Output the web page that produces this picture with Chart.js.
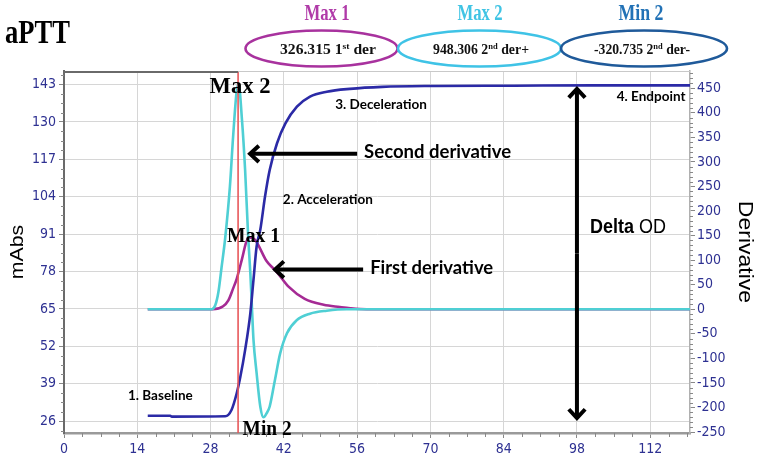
<!DOCTYPE html>
<html><head><meta charset="utf-8">
<script src="https://cdn.jsdelivr.net/npm/chart.js@4/dist/chart.umd.min.js"></script>
<style>html,body{margin:0;padding:0;background:#fff;}#wrap{width:769px;height:468px;position:relative}</style>
</head><body><div id="wrap"><canvas id="c" width="769" height="468"></canvas></div>
<script>
// ---------- data ----------
const xTicks = [0, 14, 28, 42, 56, 70, 84, 98, 112];
const leftTicks = [26, 39, 52, 65, 78, 91, 104, 117, 130, 143];
const rightTicks = [-250, -200, -150, -100, -50, 0, 50, 100, 150, 200, 250, 300, 350, 400, 450];

// absorbance (mAbs, left axis)
const absX = [16.0, 20.3, 20.6, 30.8, 32.0, 33.0, 33.7, 34.6, 35.6, 36.2, 36.8, 37.5, 38.4, 39.3, 40.7, 42.3, 44.5, 47.0, 50.2, 54.6, 60.8, 71, 86, 101, 119.6];
const absY = [27.9, 27.9, 27.6, 27.7, 29.9, 35.7, 41.5, 50.7, 63.5, 75.1, 86.7, 92.5, 104.0, 113.3, 122.6, 129.5, 135.3, 138.8, 140.5, 141.5, 142.2, 142.5, 142.6, 142.7, 142.7];

// first derivative (right axis)
const d1X = [16.0, 28.4, 30.4, 31.4, 32.3, 33.0, 34.0, 34.8, 35.3, 35.8, 36.5, 37.1, 38.7, 40.0, 40.7, 42.9, 46.0, 49.6, 52.7, 54.7, 57.8, 119.6];
const d1Y = [0, 0, 6, 18, 42, 62, 102, 136, 145, 146, 141, 131, 98, 83, 75, 46, 21, 9, 4.5, 2, 0, 0];

// second derivative (right axis)
const d2X = [16.0, 28.2, 28.9, 29.5, 30.1, 30.8, 31.7, 32.3, 33.0, 33.35, 34.0, 34.6, 35.2, 35.6, 35.9, 36.2, 36.8, 37.5, 38.1, 38.7, 39.3, 40.3, 41.3, 42.6, 44.5, 47.0, 50.2, 54.0, 119.6];
const d2Y = [0, 0, 8, 35, 85, 145, 250, 350, 445, 458, 386, 284, 145, 74, 5, -62, -130, -198, -220, -212, -198, -144, -90, -49, -22, -9, -3, 0, 0];

const redLineX = 33.26;
const peakNames = ['Max 1', 'Max 2', 'Min 2'];
const peakValues = ['326.315', '948.306', '-320.735'];
const peakOrdinals = ['1', '2', '2'];
const peakSuffixes = ['st', 'nd', 'nd'];
const peakTails = [' der', ' der+', ' der-'];

// ---------- styles ----------
const C_ABS = '#2b2aa6', C_D1 = '#a52a94', C_D2 = '#4fcfd4';
const C_TICK = '#2e3192';
const ellipseStyle = [
  {cx: 321.5, rx: 76, stroke: '#a8329e', label: '#b03aa8', tx: 328},
  {cx: 479.5, rx: 81.5, stroke: '#3fc3e6', label: '#40c4e4', tx: 481},
  {cx: 644, rx: 83, stroke: '#1f5a9a', label: '#2272b6', tx: 642}
];

function pts(xs, ys) { return xs.map((x, i) => ({x: x, y: ys[i]})); }

function drawText(ctx, s, x, y, o) {
  ctx.save();
  ctx.font = o.font; ctx.fillStyle = o.color || '#000';
  ctx.textBaseline = 'alphabetic'; ctx.textAlign = 'left';
  const w = ctx.measureText(s).width;
  const sx = o.w ? o.w / w : (o.k || 1);
  const sy = o.sy || 1;
  const fw = w * sx;
  let x0 = x;
  if (o.align === 'center') x0 = x - fw / 2; else if (o.align === 'right') x0 = x - fw;
  ctx.translate(x0, y); ctx.scale(sx, sy); ctx.fillText(s, 0, 0);
  ctx.restore();
}

function drawRotated(ctx, s, cx, cy, angle, font, sx) {
  ctx.save();
  ctx.translate(cx, cy); ctx.rotate(angle); ctx.scale(sx, 1);
  ctx.font = font; ctx.fillStyle = '#000'; ctx.textAlign = 'center'; ctx.textBaseline = 'middle';
  ctx.fillText(s, 0, 0);
  ctx.restore();
}

function chevronArrow(ctx, x1, y1, x2, y2, head) {
  const a = Math.atan2(y2 - y1, x2 - x1);
  ctx.beginPath(); ctx.moveTo(x1, y1); ctx.lineTo(x2 - Math.cos(a) * 2, y2 - Math.sin(a) * 2); ctx.stroke();
  ctx.beginPath();
  ctx.moveTo(x2 - head * Math.cos(a - 0.75), y2 - head * Math.sin(a - 0.75));
  ctx.lineTo(x2, y2);
  ctx.lineTo(x2 - head * Math.cos(a + 0.75), y2 - head * Math.sin(a + 0.75));
  ctx.stroke();
}

const deco = {
  id: 'deco',
  afterDatasetsDraw(chart) {
    const ctx = chart.ctx, a = chart.chartArea;
    const sx = chart.scales.x, sy = chart.scales.y, sr = chart.scales.y2;
    ctx.save();
    const rx = sx.getPixelForValue(redLineX);
    ctx.strokeStyle = '#e8585a'; ctx.lineWidth = 1.6;
    ctx.beginPath(); ctx.moveTo(rx, a.top); ctx.lineTo(rx, a.bottom); ctx.stroke();
    ctx.strokeStyle = '#c9c9c9'; ctx.lineWidth = 1;
    ctx.beginPath(); ctx.moveTo(rx, a.top + 0.5); ctx.lineTo(a.right, a.top + 0.5); ctx.stroke();
    ctx.strokeStyle = '#6a6a6a'; ctx.lineWidth = 2;
    ctx.beginPath(); ctx.moveTo(a.left, a.top + 1); ctx.lineTo(rx, a.top + 1); ctx.stroke();
    ctx.strokeStyle = '#888'; ctx.lineWidth = 1;
    for (let i = 0; i < xTicks.length; i++) {
      for (let k = 1; k < 4; k++) {
        const v = xTicks[i] + k * 3.5;
        if (v > sx.max) break;
        const px = Math.round(sx.getPixelForValue(v)) + 0.5;
        ctx.beginPath(); ctx.moveTo(px, a.bottom); ctx.lineTo(px, a.bottom + 4); ctx.stroke();
      }
    }
    for (let v = leftTicks[0] - 3.25; v <= sy.max; v += 3.25) {
      if (v < sy.min) continue;
      if (Math.abs(((v - leftTicks[0]) / 13) - Math.round((v - leftTicks[0]) / 13)) < 0.01) continue;
      const py = Math.round(sy.getPixelForValue(v)) + 0.5;
      ctx.beginPath(); ctx.moveTo(a.left - 3, py); ctx.lineTo(a.left, py); ctx.stroke();
    }
    for (let v = rightTicks[0]; v <= sr.max; v += 10) {
      if (v % 50 === 0) continue;
      const py = Math.round(sr.getPixelForValue(v)) + 0.5;
      ctx.beginPath(); ctx.moveTo(a.right, py); ctx.lineTo(a.right + 3, py); ctx.stroke();
    }
    ctx.restore();
  },
  afterDraw(chart) {
    const ctx = chart.ctx;
    const sx = chart.scales.x, sy = chart.scales.y;
    const X = v => sx.getPixelForValue(v), Y = v => sy.getPixelForValue(v);
    ctx.save();
    drawText(ctx, 'aPTT', 5, 43, {font: 'bold 30px "Liberation Serif"', w: 65, sy: 1.15});
    for (let i = 0; i < 3; i++) {
      const e = ellipseStyle[i];
      ctx.strokeStyle = e.stroke; ctx.lineWidth = 2.6;
      ctx.beginPath(); ctx.ellipse(e.cx, 48.5, e.rx, 18, 0, 0, Math.PI * 2); ctx.stroke();
      drawText(ctx, peakNames[i], e.tx - 1, 20, {font: 'bold 19px "Liberation Serif"', color: e.label, align: 'center', w: 45, sy: 1.25});
      const segs = [
        {t: peakValues[i] + ' ' + peakOrdinals[i], f: 'bold 13px "Liberation Serif"', dy: 0},
        {t: peakSuffixes[i], f: 'bold 8px "Liberation Serif"', dy: -5},
        {t: peakTails[i], f: 'bold 13px "Liberation Serif"', dy: 0}
      ];
      let tw = 0;
      segs.forEach(s => { ctx.font = s.f; s.w = ctx.measureText(s.t).width; tw += s.w; });
      const target = 96, k = target / tw;
      let x0 = e.tx - target / 2;
      segs.forEach(s => {
        ctx.save(); ctx.translate(x0, 54 + s.dy); ctx.scale(k, 1.15);
        ctx.font = s.f; ctx.fillStyle = '#111'; ctx.textAlign = 'left'; ctx.textBaseline = 'alphabetic';
        ctx.fillText(s.t, 0, 0); ctx.restore();
        x0 += s.w * k;
      });
    }
    drawRotated(ctx, 'mAbs', 17.5, 252, -Math.PI / 2, '19px "Liberation Sans"', 1.12);
    drawRotated(ctx, 'Derivative', 745, 252, Math.PI / 2, '20px "Liberation Sans"', 1.15);

    const serif = 'bold 20px "Liberation Serif"';
    drawText(ctx, 'Max 2', X(33.64), Y(140.1), {font: serif, align: 'center', w: 61, sy: 1.12});
    drawText(ctx, 'Max 1', X(36.22), Y(88.3), {font: serif, align: 'center', w: 53, sy: 1.1});
    drawText(ctx, 'Min 2', X(38.8), Y(21.2), {font: serif, align: 'center', w: 49, sy: 1.1});
    const sans = 'bold 12px Lato';
    ctx.font = sans;
    const kS = 90 / ctx.measureText('2. Acceleration').width;
    drawText(ctx, '1. Baseline', X(24.6), Y(33.4), {font: sans, k: kS, sy: 1.1, align: 'right'});
    drawText(ctx, '2. Acceleration', X(41.8), Y(101.5), {font: sans, k: kS, sy: 1.1});
    drawText(ctx, '3. Deceleration', X(51.8), Y(134.5), {font: sans, k: kS, sy: 1.1});
    drawText(ctx, '4. Endpoint', X(105.6), Y(137.3), {font: sans, k: kS, sy: 1.1});
    const big = 'bold 17px Lato';
    drawText(ctx, 'Second derivative', X(57.34), Y(117.5), {font: big, w: 147, sy: 1.1});
    drawText(ctx, 'First derivative', X(58.49), Y(77.2), {font: big, w: 123, sy: 1.1});
    ctx.font = 'bold 18px "Liberation Sans"';
    const dw = ctx.measureText('Delta ').width;
    drawText(ctx, 'Delta', X(100.5), Y(91.4), {font: 'bold 18px "Liberation Sans"', sy: 1.1});
    drawText(ctx, 'OD', X(100.5) + dw, Y(91.4), {font: '18px "Liberation Sans"', sy: 1.1});

    ctx.strokeStyle = '#000'; ctx.lineWidth = 4; ctx.lineCap = 'butt'; ctx.lineJoin = 'miter';
    chevronArrow(ctx, X(56.0), Y(118.9), X(35.55), Y(118.9), 12);
    chevronArrow(ctx, X(57.15), Y(78.7), X(40.33), Y(78.7), 12);
    const vx = X(98);
    chevronArrow(ctx, vx, (Y(141.5) + Y(27.1)) / 2, vx, Y(141.5), 12);
    chevronArrow(ctx, vx, (Y(141.5) + Y(27.1)) / 2, vx, Y(27.1), 12);
    ctx.restore();
  }
};

const tickFont = {family: '"DejaVu Sans Condensed", "DejaVu Sans"', size: 14};

new Chart(document.getElementById('c'), {
  type: 'line',
  data: {
    datasets: [
      {data: pts(absX, absY), borderColor: C_ABS, yAxisID: 'y', borderWidth: 2.6},
      {data: pts(d2X, d2Y), borderColor: C_D2, yAxisID: 'y2', borderWidth: 2.6},
      {data: pts(d1X, d1Y), borderColor: C_D1, yAxisID: 'y2', borderWidth: 2.6}
    ]
  },
  options: {
    responsive: false, animation: false, devicePixelRatio: 1,
    layout: {padding: {top: 71, left: 0, right: 0, bottom: 0}},
    plugins: {legend: {display: false}, tooltip: {enabled: false}, title: {display: false}},
    elements: {point: {radius: 0}, line: {cubicInterpolationMode: 'monotone', fill: false}},
    scales: {
      x: {
        type: 'linear', min: 0, max: 119.6,
        afterBuildTicks: s => { s.ticks = xTicks.map(v => ({value: v})); },
        afterFit: s => { s.height = 35; },
        grid: {color: '#d6d6d6', tickColor: '#888', tickLength: 5},
        border: {color: '#9a9a9a', width: 2.5},
        ticks: {color: C_TICK, font: tickFont, padding: 3, maxRotation: 0, autoSkip: false}
      },
      y: {
        position: 'left', min: 21.9, max: 147.7,
        afterBuildTicks: s => { s.ticks = leftTicks.map(v => ({value: v})); },
        afterFit: s => { s.width = 64; },
        grid: {color: '#d6d6d6', tickColor: '#888', tickLength: 5},
        border: {color: '#6a6a6a', width: 2},
        ticks: {color: C_TICK, font: tickFont, padding: 3, autoSkip: false}
      },
      y2: {
        position: 'right', min: -252, max: 485,
        afterBuildTicks: s => { s.ticks = rightTicks.map(v => ({value: v})); },
        afterFit: s => { s.width = 79; },
        grid: {drawOnChartArea: false, tickColor: '#888', tickLength: 5},
        border: {color: '#b0b0b0', width: 1.5},
        ticks: {color: C_TICK, font: tickFont, padding: 2, autoSkip: false}
      }
    }
  },
  plugins: [deco]
});
</script>
</body></html>
